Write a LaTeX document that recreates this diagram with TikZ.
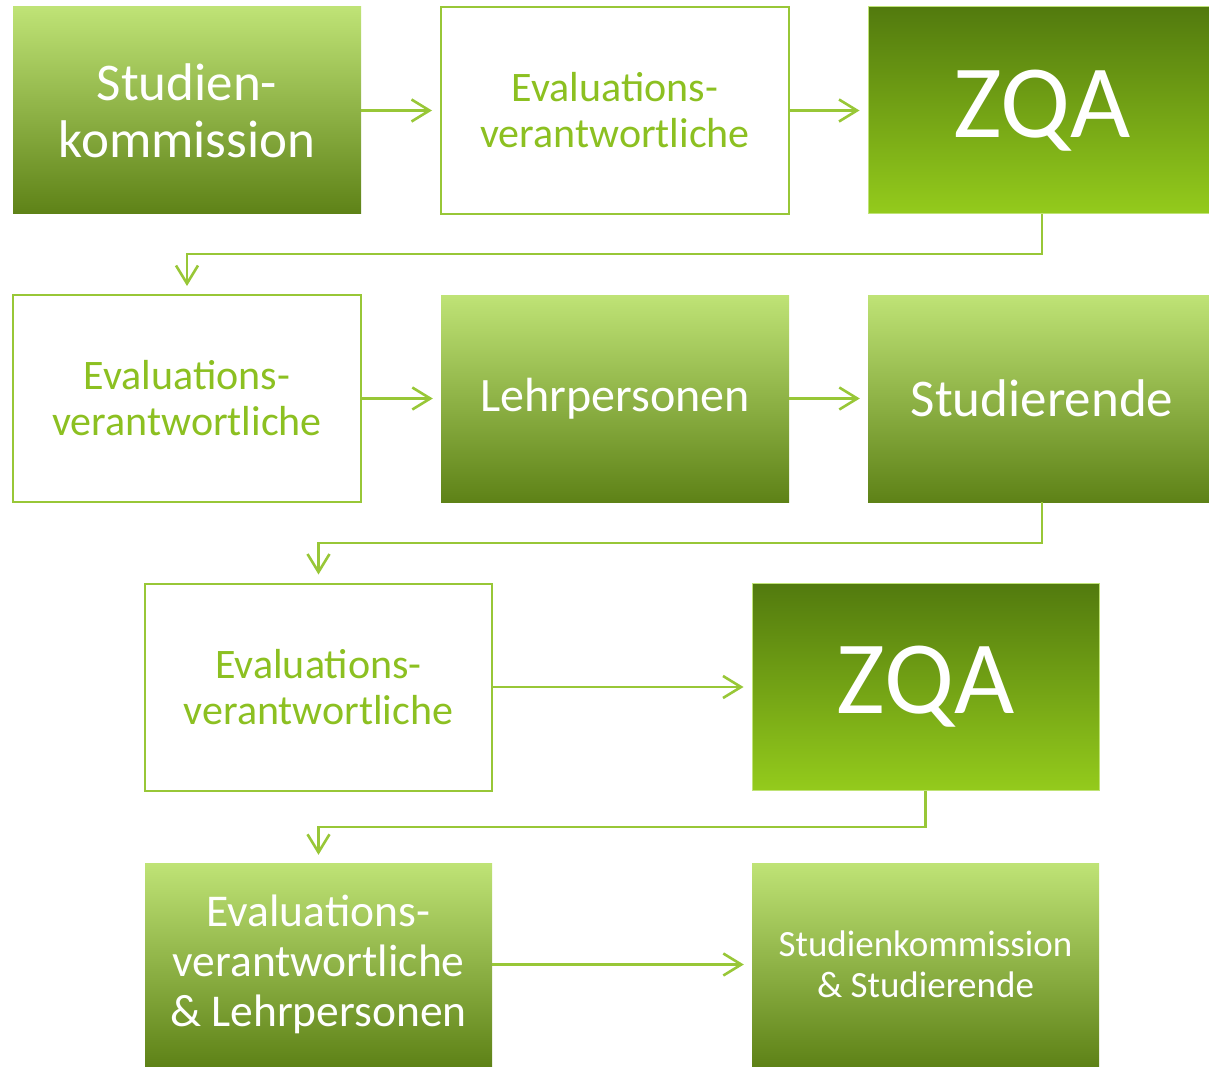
\documentclass[tikz,border=0pt]{standalone}
\usepackage{fontspec}
\setmainfont{Carlito}
\usetikzlibrary{arrows.meta}
\definecolor{gLight}{HTML}{BFE376}
\definecolor{gMid}{HTML}{9BCB2B}
\definecolor{gDark}{HTML}{5E8217}
\definecolor{zTop}{HTML}{527A0E}
\definecolor{zBot}{HTML}{94CB1C}
\definecolor{lineG}{HTML}{98C737}
\definecolor{textG}{HTML}{8CC021}
\tikzset{
  box/.style={rectangle, minimum width=348pt, minimum height=207pt, inner sep=0pt, align=center, text=white},
  gradbox/.style={box, top color=gLight, middle color=gMid, bottom color=gDark},
  zqabox/.style={box, top color=zTop, bottom color=zBot, draw=gLight, line width=1pt},
  whitebox/.style={box, draw=lineG, line width=2pt, fill=white, text=textG},
  conn/.style={draw=lineG, line width=2.6pt, -{Straight Barb[length=18pt, width=22pt, line width=2.6pt]}, shorten >=8pt},
}
\begin{document}
\begin{tikzpicture}[x=1pt, y=-1pt]
\useasboundingbox (0,0) rectangle (1209,1067);
\begin{scope}
\clip (0,0) rectangle (1209,1067);
% row 1
\node[gradbox, font=\fontsize{53}{57}\selectfont] (A) at (187,110.5) {Studien-\\kommission};
\node[whitebox, font=\fontsize{42}{46}\selectfont] (B) at (615,110.5) {Evaluations-\\verantwortliche};
\node[zqabox, font=\fontsize{104}{110}\selectfont] (C) at (1042,110.5) {ZQA};
% row 2
\node[whitebox, font=\fontsize{42}{46}\selectfont] (D) at (187,398.5) {Evaluations-\\verantwortliche};
\node[gradbox, font=\fontsize{48}{52}\selectfont] (E) at (615,398.5) {Lehrpersonen};
\node[gradbox, font=\fontsize{53}{57}\selectfont] (F) at (1042,398.5) {Studierende};
% row 3
\node[whitebox, minimum width=347pt, font=\fontsize{42}{46}\selectfont] (G) at (318.5,687) {Evaluations-\\verantwortliche};
\node[zqabox, minimum width=347pt, font=\fontsize{104}{110}\selectfont] (H) at (925.5,687) {ZQA};
% row 4
\node[gradbox, minimum width=347pt, minimum height=203pt, font=\fontsize{45.5}{50}\selectfont] (I) at (318.5,964.5) {Evaluations-\\verantwortliche\\\&~Lehrpersonen};
\node[gradbox, minimum width=347pt, minimum height=203pt, font=\fontsize{37}{41}\selectfont] (J) at (925.5,964.5) {Studienkommission\\\&~Studierende};
\end{scope}
% connectors
\draw[conn] (A.east) -- (B.west);
\draw[conn] (B.east) -- (C.west);
\draw[conn] (C.south) -- (C.south |- 0,254) -| (D.north);
\draw[conn] (D.east) -- (E.west);
\draw[conn] (E.east) -- (F.west);
\draw[conn] (F.south) -- (F.south |- 0,543) -| (G.north);
\draw[conn] (G.east) -- (H.west);
\draw[conn] (H.south) -- (H.south |- 0,827) -| (I.north);
\draw[conn] (I.east) -- (J.west);
\end{tikzpicture}
\end{document}
